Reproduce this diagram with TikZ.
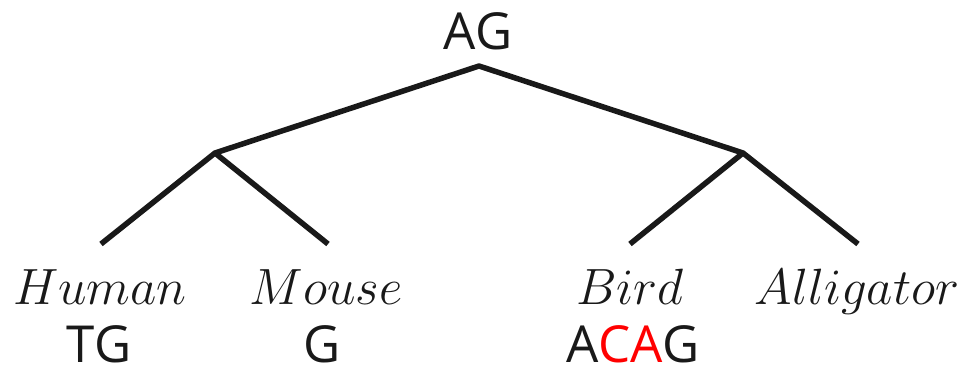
\documentclass[tikz,border=0pt]{standalone}
\usepackage{fix-cm}
\usepackage{fontspec}
\setsansfont{Open Sans}
\begin{document}
\begin{tikzpicture}[x=1pt,y=-1pt,
  branch/.style={line width=5.5pt,line cap=butt,line join=round,draw=black!90},
  seq/.style={anchor=base,inner sep=0pt,font=\sffamily\fontsize{51}{60}\selectfont,text=black!90},
  taxon/.style={anchor=base,inner sep=0pt,font=\fontsize{51}{60}\selectfont,text=black!90}]
  \useasboundingbox (0,0) rectangle (970,369);
  % ancestral sequence at the root
  \node[seq] (rootseq) at (478,50) {AG};
  % tree vertices
  \coordinate (root) at (479,66);
  \coordinate (left) at (215,153);
  \coordinate (right) at (743,153);
  \coordinate (human) at (101,244);
  \coordinate (mouse) at (328,244);
  \coordinate (bird) at (630,244);
  \coordinate (gator) at (858,244);
  % branches
  \draw[branch] (human) -- (left) -- (root) -- (right) -- (gator);
  \draw[branch] (left) -- (mouse);
  \draw[branch] (right) -- (bird);
  % leaf names
  \node[taxon] (humanname) at (100,304) {$Human$};
  \node[taxon] (mousename) at (326,304) {$Mouse$};
  \node[taxon] (birdname) at (630,304) {$Bird$};
  \node[taxon] (gatorname) at (857,304) {$Alligator$};
  % leaf sequences
  \node[seq] (humanseq) at (99,362) {TG};
  \node[seq] (mouseseq) at (322,362) {G};
  \node[seq] (birdseq) at (633,362) {A\textcolor{red}{CA}G};
\end{tikzpicture}
\end{document}
